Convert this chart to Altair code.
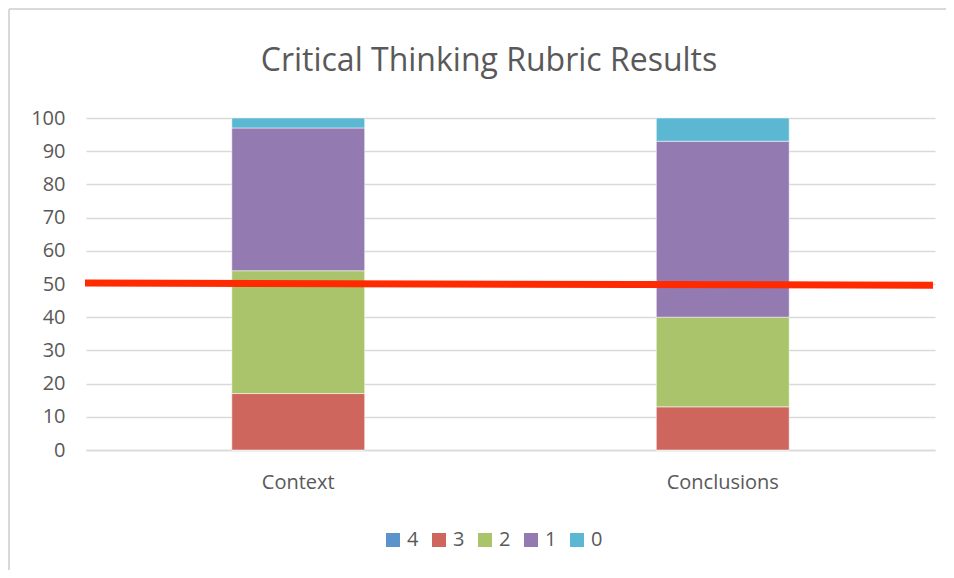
import altair as alt
import pandas as pd

chart_title = ["Critical Thinking Rubric Results"]
categories = ["Context", "Conclusions"]
levels = ["4", "3", "2", "1", "0"]
level_rank = [4, 3, 2, 1, 0]
context_values = [0, 17, 37, 43, 3]
conclusions_values = [0, 13, 27, 53, 7]
colors = ["#5B93CB", "#CF665E", "#AAC46B", "#937AB0", "#5CB8D2"]
y_ticks = [0, 10, 20, 30, 40, 50, 60, 70, 80, 90, 100]
line_start = [50.3]
line_end = [49.6]

rows = []
for cat, vals in zip(categories, [context_values, conclusions_values]):
    for lvl, rk, v in zip(levels, level_rank, vals):
        rows.append({"category": cat, "level": lvl, "rank": rk, "value": v})
df = pd.DataFrame(rows)

FONT = "Open Sans"
GRAY = "#595959"
LBL = 20
yscale = alt.Scale(domain=[0, 100], nice=False)
yaxis = alt.Axis(values=y_ticks, labelFontSize=LBL, labelColor=GRAY, labelFont=FONT,
                 labelPadding=21, ticks=False, domain=False, gridColor="#D9D9D9",
                 gridWidth=1.5, labelOverlap=False, title=None)

bars = alt.Chart(df).mark_bar(stroke="white", strokeWidth=0.5).encode(
    x=alt.X("category:N", sort=categories, title=None,
            scale=alt.Scale(paddingInner=0.687, paddingOuter=0.3435),
            axis=alt.Axis(labelAngle=0, labelFontSize=LBL, labelColor=GRAY, labelFont=FONT,
                          labelPadding=22, ticks=False, grid=False,
                          domainColor="#D9D9D9", domainWidth=1.5)),
    y=alt.Y("value:Q", stack="zero", title=None, scale=yscale, axis=yaxis),
    color=alt.Color("level:N", scale=alt.Scale(domain=levels, range=colors),
                    legend=alt.Legend(title=None, orient="none", legendX=297, legendY=412,
                                      direction="horizontal", columns=5, symbolType="square",
                                      symbolSize=196, symbolStrokeWidth=0, labelFontSize=LBL,
                                      labelColor=GRAY, labelFont=FONT, columnPadding=10,
                                      labelOffset=4)),
    order=alt.Order("rank:Q", sort="descending"),
)

line_df = pd.DataFrame({"y1": line_start, "y2": line_end})
redline = alt.Chart(line_df).mark_rule(color="#FF2A00", strokeWidth=7).encode(
    x=alt.value(-1), x2=alt.value(847),
    y=alt.Y("y1:Q", scale=yscale, axis=yaxis, title=None), y2="y2:Q"
)

title_df = pd.DataFrame({"t": chart_title})
title_mark = alt.Chart(title_df).mark_text(
    font=FONT, fontSize=32, color=GRAY, align="center", baseline="middle"
).encode(x=alt.value(403), y=alt.value(-57), text="t:N")

border_df = pd.DataFrame({"k": [0]})
top_border = alt.Chart(border_df).mark_rule(color="#D9D9D9", strokeWidth=2).encode(
    x=alt.value(-77), x2=alt.value(870), y=alt.value(-109), y2=alt.value(-109)
)
left_border = alt.Chart(border_df).mark_rule(color="#D9D9D9", strokeWidth=2).encode(
    x=alt.value(-77), x2=alt.value(-77), y=alt.value(-109), y2=alt.value(462)
)

chart = alt.layer(bars, redline, title_mark, top_border, left_border).properties(
    width=849, height=332,
    background="white",
    autosize=alt.AutoSizeParams(type="none"),
    padding={"left": 78, "top": 110, "right": 11, "bottom": 120},
).configure_view(stroke="transparent", strokeWidth=0)

chart.save("out.html", embed_options={"renderer": "svg", "actions": False})
